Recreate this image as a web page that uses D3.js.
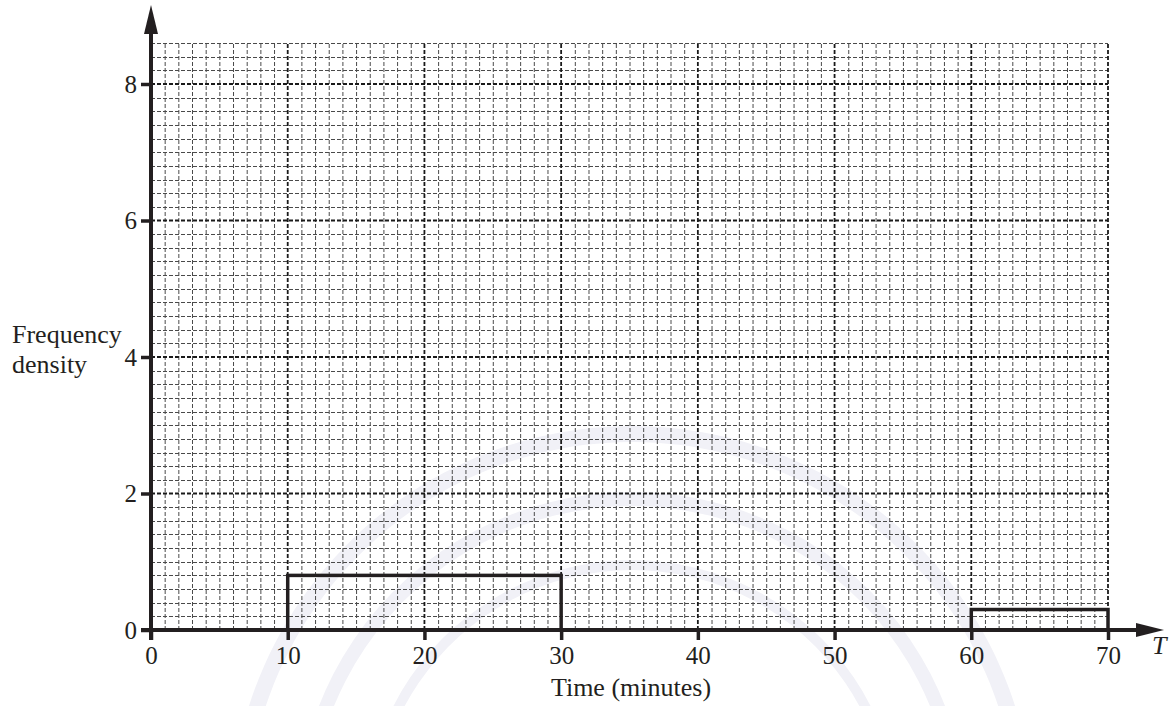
<!DOCTYPE html>
<html>
<head>
<meta charset="utf-8">
<script src="https://cdn.jsdelivr.net/npm/d3@7"></script>
<style>
  html, body { margin: 0; padding: 0; background: #fff; }
  svg { display: block; }
  text { font-family: "Liberation Serif", "Times New Roman", serif; fill: #231f20; }
</style>
</head>
<body>
<script>
// ---- data ----
const barStarts = [10, 60];
const barEnds = [30, 70];
const freqDensity = [0.8, 0.3];
const xTickValues = [0, 10, 20, 30, 40, 50, 60, 70];
const yTickValues = [0, 2, 4, 6, 8];
const xLabel = "Time (minutes)";
const yLabelLines = ["Frequency", "density"];
const xVarLabel = "T";

// ---- layout ----
const W = 1174, H = 706;
const ink = "#231f20";
const x = d3.scaleLinear().domain([0, 70]).range([151, 1108]);
const y = d3.scaleLinear().domain([0, 8]).range([630, 84]);
const gridTop = 8.6;

const svg = d3.select("body").append("svg").attr("width", W).attr("height", H);

// faint watermark rings
const wm = svg.append("g").attr("transform", "translate(632,828)");
[[386, 402], [322, 336], [258, 268]].forEach(([r0, r1]) => {
  wm.append("path")
    .attr("d", d3.arc().innerRadius(r0).outerRadius(r1).startAngle(-Math.PI * 0.62).endAngle(Math.PI * 0.62)())
    .attr("fill", "#f1f1f7");
});

// grid
const grid = svg.append("g");
const minorX = d3.range(1, 71).filter(v => v % 10 !== 0);
const majorX = d3.range(10, 71, 10);
const minorY = d3.range(1, 44).map(i => +(i * 0.2).toFixed(1)).filter(v => Math.abs(v / 2 - Math.round(v / 2)) > 1e-6);
const majorY = [2, 4, 6, 8];

grid.selectAll("line.mx").data(minorX).join("line")
  .attr("x1", d => x(d) + 0.5).attr("x2", d => x(d) + 0.5)
  .attr("y1", y(0)).attr("y2", y(gridTop))
  .attr("stroke", "#4a4a4a").attr("stroke-width", 1).attr("stroke-dasharray", "4,2");
grid.selectAll("line.my").data(minorY).join("line")
  .attr("x1", x(0)).attr("x2", x(70))
  .attr("y1", d => Math.round(y(d)) + 0.5).attr("y2", d => Math.round(y(d)) + 0.5)
  .attr("stroke", "#4a4a4a").attr("stroke-width", 1).attr("stroke-dasharray", "4,2");
grid.selectAll("line.Mx").data(majorX).join("line")
  .attr("x1", d => x(d)).attr("x2", d => x(d))
  .attr("y1", y(0)).attr("y2", y(gridTop))
  .attr("stroke", "#1a1a1a").attr("stroke-width", 1.8).attr("stroke-dasharray", "4,2");
grid.selectAll("line.My").data(majorY).join("line")
  .attr("x1", x(0)).attr("x2", x(70))
  .attr("y1", d => y(d)).attr("y2", d => y(d))
  .attr("stroke", "#1a1a1a").attr("stroke-width", 1.8).attr("stroke-dasharray", "4,2");

// bars (histogram)
svg.append("g").selectAll("rect").data(barStarts.map((s, i) => ({ s, e: barEnds[i], v: freqDensity[i] })))
  .join("rect")
  .attr("x", d => x(d.s)).attr("width", d => x(d.e) - x(d.s))
  .attr("y", d => y(d.v)).attr("height", d => y(0) - y(d.v))
  .attr("fill", "none").attr("stroke", ink).attr("stroke-width", 3.5);

// axes
const xAxis = svg.append("g").attr("transform", `translate(0,${y(0)})`)
  .call(d3.axisBottom(x).tickValues(xTickValues).tickSize(10).tickPadding(6).tickFormat(d3.format("d")));
xAxis.select(".domain").remove();
xAxis.selectAll(".tick line").attr("stroke", ink).attr("stroke-width", 3.5);
xAxis.selectAll(".tick text").style("font-size", "25px").attr("fill", ink);

const yAxis = svg.append("g").attr("transform", `translate(${x(0)},0)`)
  .call(d3.axisLeft(y).tickValues(yTickValues).tickSize(10).tickPadding(4).tickFormat(d3.format("d")));
yAxis.select(".domain").remove();
yAxis.selectAll(".tick line").attr("stroke", ink).attr("stroke-width", 3.5);
yAxis.selectAll(".tick text").style("font-size", "25px").attr("fill", ink);

// axis lines with arrows
svg.append("line").attr("x1", x(0) - 10).attr("x2", 1140).attr("y1", y(0)).attr("y2", y(0))
  .attr("stroke", ink).attr("stroke-width", 4);
svg.append("path").attr("d", `M1136,${y(0) - 7} L1164,${y(0)} L1136,${y(0) + 7} Z`).attr("fill", ink);
svg.append("line").attr("x1", x(0)).attr("x2", x(0)).attr("y1", y(0) + 10).attr("y2", 30)
  .attr("stroke", ink).attr("stroke-width", 4);
svg.append("path").attr("d", `M${x(0) - 7},34 L${x(0)},5 L${x(0) + 7},34 Z`).attr("fill", ink);

// labels
svg.append("text").attr("x", 631).attr("y", 696).attr("text-anchor", "middle")
  .style("font-size", "26px").text(xLabel);
svg.append("text").attr("x", 12).attr("y", 343).style("font-size", "26px").text(yLabelLines[0]);
svg.append("text").attr("x", 12).attr("y", 373).style("font-size", "26px").text(yLabelLines[1]);
svg.append("text").attr("x", 1152).attr("y", 654).style("font-size", "26px").style("font-style", "italic").text(xVarLabel);
</script>
</body>
</html>
